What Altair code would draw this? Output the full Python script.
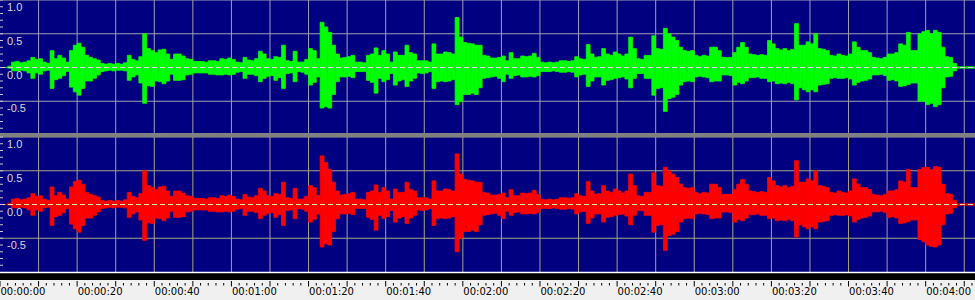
import altair as alt
import pandas as pd

# ---------------- data ----------------
SECONDS = list(range(0, 253))  # 1-second bins

GREEN_UP = [
    0, 0, 0.02, 0.08, 0.09, 0.07, 0.08, 0.10, 0.15, 0.12,
    0.13, 0.08, 0.06, 0.25, 0.13, 0.18, 0.14, 0.08, 0.25, 0.33,
    0.36, 0.30, 0.18, 0.15, 0.13, 0.11, 0.06, 0.05, 0.06, 0.05,
    0.06, 0.05, 0.07, 0.18, 0.12, 0.10, 0.16, 0.50, 0.28, 0.25,
    0.22, 0.26, 0.27, 0.20, 0.12, 0.20, 0.20, 0.17, 0.13, 0.12,
    0.09, 0.09, 0.09, 0.08, 0.10, 0.10, 0.09, 0.13, 0.12, 0.14,
    0.12, 0.08, 0.07, 0.15, 0.11, 0.10, 0.13, 0.24, 0.20, 0.13,
    0.12, 0.16, 0.15, 0.33, 0.10, 0.09, 0.24, 0.08, 0.08, 0.12,
    0.28, 0.25, 0.13, 0.67, 0.60, 0.52, 0.33, 0.20, 0.14, 0.15,
    0.16, 0.18, 0.08, 0.08, 0.07, 0.18, 0.20, 0.29, 0.18, 0.25,
    0.20, 0.08, 0.23, 0.18, 0.18, 0.33, 0.22, 0.20, 0.10, 0.10,
    0.10, 0.08, 0.35, 0.20, 0.20, 0.23, 0.22, 0.20, 0.74, 0.45,
    0.37, 0.36, 0.35, 0.33, 0.33, 0.18, 0.17, 0.14, 0.14, 0.15,
    0.17, 0.10, 0.22, 0.13, 0.13, 0.17, 0.16, 0.17, 0.21, 0.15,
    0.08, 0.07, 0.08, 0.07, 0.08, 0.10, 0.10, 0.09, 0.10, 0.16,
    0.13, 0.12, 0.34, 0.20, 0.15, 0.16, 0.28, 0.20, 0.18, 0.23,
    0.20, 0.17, 0.20, 0.45, 0.28, 0.13, 0.12, 0.18, 0.18, 0.47,
    0.28, 0.27, 0.58, 0.50, 0.45, 0.40, 0.30, 0.25, 0.24, 0.25,
    0.18, 0.16, 0.18, 0.17, 0.30, 0.30, 0.25, 0.15, 0.15, 0.15,
    0.22, 0.30, 0.37, 0.30, 0.20, 0.19, 0.18, 0.19, 0.18, 0.40,
    0.35, 0.28, 0.26, 0.28, 0.25, 0.27, 0.65, 0.33, 0.33, 0.38,
    0.35, 0.50, 0.28, 0.27, 0.25, 0.18, 0.17, 0.20, 0.18, 0.17,
    0.20, 0.38, 0.30, 0.25, 0.25, 0.22, 0.15, 0.14, 0.13, 0.15,
    0.20, 0.20, 0.22, 0.35, 0.33, 0.52, 0.25, 0.25, 0.50, 0.53,
    0.55, 0.50, 0.55, 0.52, 0.30, 0.16, 0.15, 0.06, 0.01, 0.01,
    0.01, 0.01, 0.01,
]
GREEN_DN = [
    0, 0, 0.01, 0.05, 0.05, 0.04, 0.05, 0.08, 0.16, 0.08,
    0.10, 0.05, 0.04, 0.31, 0.18, 0.16, 0.12, 0.06, 0.29, 0.36,
    0.41, 0.31, 0.20, 0.20, 0.16, 0.11, 0.06, 0.05, 0.04, 0.05,
    0.04, 0.04, 0.05, 0.19, 0.14, 0.11, 0.23, 0.53, 0.27, 0.28,
    0.20, 0.21, 0.24, 0.20, 0.10, 0.19, 0.19, 0.18, 0.11, 0.10,
    0.08, 0.08, 0.08, 0.08, 0.10, 0.10, 0.11, 0.11, 0.10, 0.11,
    0.10, 0.07, 0.06, 0.16, 0.10, 0.10, 0.12, 0.21, 0.16, 0.13,
    0.12, 0.19, 0.15, 0.31, 0.09, 0.08, 0.21, 0.06, 0.07, 0.10,
    0.26, 0.22, 0.14, 0.60, 0.58, 0.60, 0.40, 0.21, 0.14, 0.14,
    0.13, 0.15, 0.06, 0.06, 0.06, 0.19, 0.22, 0.38, 0.16, 0.21,
    0.18, 0.09, 0.26, 0.20, 0.18, 0.28, 0.20, 0.16, 0.08, 0.09,
    0.08, 0.06, 0.31, 0.21, 0.20, 0.21, 0.20, 0.18, 0.55, 0.50,
    0.40, 0.40, 0.38, 0.40, 0.30, 0.16, 0.15, 0.14, 0.13, 0.16,
    0.21, 0.10, 0.16, 0.12, 0.11, 0.14, 0.14, 0.13, 0.14, 0.12,
    0.06, 0.06, 0.06, 0.05, 0.06, 0.07, 0.07, 0.06, 0.07, 0.14,
    0.11, 0.10, 0.28, 0.20, 0.14, 0.14, 0.26, 0.19, 0.18, 0.16,
    0.15, 0.14, 0.17, 0.30, 0.16, 0.09, 0.09, 0.16, 0.16, 0.41,
    0.31, 0.30, 0.65, 0.46, 0.44, 0.40, 0.26, 0.21, 0.20, 0.21,
    0.14, 0.13, 0.14, 0.15, 0.21, 0.20, 0.20, 0.11, 0.11, 0.12,
    0.26, 0.22, 0.24, 0.20, 0.15, 0.15, 0.14, 0.16, 0.16, 0.21,
    0.20, 0.24, 0.23, 0.24, 0.22, 0.24, 0.48, 0.30, 0.33, 0.36,
    0.33, 0.36, 0.26, 0.25, 0.24, 0.16, 0.15, 0.16, 0.16, 0.15,
    0.17, 0.26, 0.22, 0.20, 0.19, 0.17, 0.11, 0.11, 0.10, 0.12,
    0.19, 0.18, 0.20, 0.28, 0.27, 0.25, 0.23, 0.23, 0.50, 0.50,
    0.55, 0.53, 0.58, 0.55, 0.30, 0.14, 0.13, 0.05, 0.01, 0.01,
    0.01, 0.01, 0.01,
]
RED_UP = [
    0, 0, 0.02, 0.08, 0.09, 0.07, 0.08, 0.10, 0.16, 0.12,
    0.13, 0.08, 0.06, 0.26, 0.13, 0.18, 0.14, 0.08, 0.26, 0.34,
    0.36, 0.30, 0.18, 0.15, 0.13, 0.11, 0.06, 0.05, 0.06, 0.05,
    0.06, 0.05, 0.07, 0.18, 0.12, 0.10, 0.16, 0.50, 0.28, 0.25,
    0.22, 0.26, 0.27, 0.20, 0.12, 0.20, 0.20, 0.17, 0.13, 0.12,
    0.09, 0.09, 0.09, 0.08, 0.10, 0.10, 0.09, 0.13, 0.12, 0.14,
    0.12, 0.08, 0.07, 0.15, 0.11, 0.10, 0.13, 0.24, 0.20, 0.13,
    0.12, 0.16, 0.15, 0.33, 0.10, 0.09, 0.24, 0.08, 0.08, 0.12,
    0.28, 0.25, 0.13, 0.72, 0.62, 0.52, 0.33, 0.20, 0.14, 0.15,
    0.16, 0.18, 0.08, 0.08, 0.07, 0.18, 0.20, 0.29, 0.18, 0.25,
    0.20, 0.08, 0.23, 0.18, 0.18, 0.33, 0.22, 0.20, 0.10, 0.10,
    0.10, 0.08, 0.35, 0.20, 0.20, 0.23, 0.22, 0.20, 0.75, 0.45,
    0.37, 0.36, 0.35, 0.33, 0.33, 0.18, 0.17, 0.14, 0.14, 0.15,
    0.17, 0.10, 0.22, 0.13, 0.13, 0.17, 0.16, 0.17, 0.21, 0.15,
    0.08, 0.07, 0.08, 0.07, 0.08, 0.10, 0.10, 0.09, 0.10, 0.16,
    0.13, 0.12, 0.34, 0.20, 0.15, 0.16, 0.28, 0.20, 0.18, 0.23,
    0.20, 0.17, 0.20, 0.45, 0.28, 0.13, 0.12, 0.18, 0.18, 0.47,
    0.28, 0.27, 0.55, 0.50, 0.45, 0.40, 0.30, 0.25, 0.24, 0.25,
    0.18, 0.16, 0.18, 0.17, 0.30, 0.30, 0.25, 0.15, 0.15, 0.15,
    0.22, 0.30, 0.37, 0.30, 0.20, 0.19, 0.18, 0.19, 0.18, 0.40,
    0.35, 0.28, 0.26, 0.28, 0.25, 0.27, 0.65, 0.33, 0.33, 0.38,
    0.35, 0.50, 0.28, 0.27, 0.25, 0.18, 0.17, 0.20, 0.18, 0.17,
    0.20, 0.38, 0.30, 0.25, 0.25, 0.22, 0.15, 0.14, 0.13, 0.15,
    0.20, 0.20, 0.22, 0.35, 0.33, 0.52, 0.25, 0.25, 0.52, 0.55,
    0.55, 0.52, 0.56, 0.55, 0.30, 0.16, 0.15, 0.06, 0.01, 0.01,
    0.01, 0.01, 0.01,
]
RED_DN = [
    0, 0, 0.01, 0.05, 0.05, 0.04, 0.05, 0.08, 0.16, 0.08,
    0.10, 0.05, 0.04, 0.31, 0.18, 0.16, 0.12, 0.06, 0.29, 0.36,
    0.41, 0.31, 0.20, 0.20, 0.16, 0.11, 0.06, 0.05, 0.04, 0.05,
    0.04, 0.04, 0.05, 0.19, 0.14, 0.11, 0.23, 0.53, 0.27, 0.28,
    0.20, 0.21, 0.24, 0.20, 0.10, 0.19, 0.19, 0.18, 0.11, 0.10,
    0.08, 0.08, 0.08, 0.08, 0.10, 0.10, 0.11, 0.11, 0.10, 0.11,
    0.10, 0.07, 0.06, 0.16, 0.10, 0.10, 0.12, 0.21, 0.16, 0.13,
    0.12, 0.19, 0.15, 0.31, 0.09, 0.08, 0.21, 0.06, 0.07, 0.10,
    0.26, 0.22, 0.14, 0.63, 0.58, 0.60, 0.40, 0.21, 0.14, 0.14,
    0.13, 0.15, 0.06, 0.06, 0.06, 0.19, 0.22, 0.38, 0.16, 0.21,
    0.18, 0.09, 0.26, 0.20, 0.18, 0.28, 0.20, 0.16, 0.08, 0.09,
    0.08, 0.06, 0.31, 0.21, 0.20, 0.21, 0.20, 0.18, 0.70, 0.50,
    0.40, 0.40, 0.38, 0.40, 0.30, 0.16, 0.15, 0.14, 0.13, 0.16,
    0.21, 0.10, 0.16, 0.12, 0.11, 0.14, 0.14, 0.13, 0.14, 0.12,
    0.06, 0.06, 0.06, 0.05, 0.06, 0.07, 0.07, 0.06, 0.07, 0.14,
    0.11, 0.10, 0.28, 0.20, 0.14, 0.14, 0.26, 0.19, 0.18, 0.16,
    0.15, 0.14, 0.17, 0.30, 0.16, 0.09, 0.09, 0.16, 0.16, 0.41,
    0.31, 0.30, 0.68, 0.46, 0.44, 0.40, 0.26, 0.21, 0.20, 0.21,
    0.14, 0.13, 0.14, 0.15, 0.21, 0.20, 0.20, 0.11, 0.11, 0.12,
    0.26, 0.22, 0.24, 0.20, 0.15, 0.15, 0.14, 0.16, 0.16, 0.21,
    0.20, 0.24, 0.23, 0.24, 0.22, 0.24, 0.48, 0.30, 0.33, 0.36,
    0.33, 0.36, 0.26, 0.25, 0.24, 0.16, 0.15, 0.16, 0.16, 0.15,
    0.17, 0.26, 0.22, 0.20, 0.19, 0.17, 0.11, 0.11, 0.10, 0.12,
    0.19, 0.18, 0.20, 0.28, 0.27, 0.25, 0.23, 0.23, 0.52, 0.55,
    0.60, 0.62, 0.63, 0.60, 0.30, 0.14, 0.13, 0.05, 0.01, 0.01,
    0.01, 0.01, 0.01,
]

GRID_TIMES = list(range(10, 260, 10))
AXIS_TIMES = list(range(0, 260, 10))
MINOR_TICK_TIMES = [t for t in range(2, 254, 2) if t % 10 != 0]
X_LABEL_TIMES = [0, 20, 40, 60, 80, 100, 120, 140, 160, 180, 200, 220, 240]
X_LABELS = ["00:00:00", "00:00:20", "00:00:40", "00:01:00", "00:01:20",
            "00:01:40", "00:02:00", "00:02:20", "00:02:40", "00:03:00",
            "00:03:20", "00:03:40", "00:04:00"]
GRID_LEVELS = [1.0, 0.5, -0.5]
Y_TICK_VALUES = [1.0, 0.9, 0.8, 0.7, 0.6, 0.5, 0.4, 0.3, 0.2, 0.1, 0.0,
                 -0.1, -0.2, -0.3, -0.4, -0.5, -0.6, -0.7, -0.8, -0.9]
Y_LABEL_VALUES = [1.0, 0.5, 0.0, -0.5]
Y_LABELS = ["1.0", "0.5", "0.0", "-0.5"]

# ---------------- layout constants ----------------
W, H = 975, 300
PX_PER_UNIT = 67.5
OFF = 137 / PX_PER_UNIT           # bottom channel shift (panel units)
YMIN = 1.0 - H / PX_PER_UNIT
XMAX = W / 3.857

XS = alt.Scale(domain=[0, XMAX], nice=False, zero=False)
YS = alt.Scale(domain=[YMIN, 1.0], nice=False, zero=False)

NAVY = "#000080"
GRID_COLORS = {"L": "#a0a0b4", "R": "#a4a484"}
ZERO_COLORS = {"L": "#e0d4ea", "R": "#f0e4b0"}
WAVE_COLORS = {"L": "#00ff00", "R": "#ff0000"}
SHIFT = {"L": 0.0, "R": OFF}

# ---------------- tables ----------------
wave = pd.DataFrame(
    [dict(t=s, t2=s + 1, top=GREEN_UP[i], bot=-GREEN_DN[i], ch="L") for i, s in enumerate(SECONDS)]
    + [dict(t=s, t2=s + 1, top=RED_UP[i] - OFF, bot=-RED_DN[i] - OFF, ch="R") for i, s in enumerate(SECONDS)]
)
vgrid = pd.DataFrame([dict(t=t, ya=1.0 - SHIFT[c], yb=-1.0 - SHIFT[c], ch=c)
                      for c in ("L", "R") for t in GRID_TIMES])
hgrid = pd.DataFrame([dict(lvl=v - SHIFT[c], ch=c) for c in ("L", "R") for v in GRID_LEVELS])
zero = pd.DataFrame([dict(z=0.0 - SHIFT[c], ch=c) for c in ("L", "R")])
ytick = pd.DataFrame([dict(v=v - SHIFT[c]) for c in ("L", "R") for v in Y_TICK_VALUES])
ylab = pd.DataFrame([dict(v=v - SHIFT[c], label=Y_LABELS[i])
                     for c in ("L", "R") for i, v in enumerate(Y_LABEL_VALUES)])
xmajor = pd.DataFrame({"t": AXIS_TIMES})
xminor = pd.DataFrame({"t": MINOR_TICK_TIMES})
xlab = pd.DataFrame({"t": X_LABEL_TIMES, "label": X_LABELS})
dummy = pd.DataFrame({"k": [0]})


def cscale(d):
    return alt.Scale(domain=list(d.keys()), range=list(d.values()))


X = lambda f: alt.X(f, scale=XS, axis=None)
Y = lambda f: alt.Y(f, scale=YS, axis=None)

# ---------------- layers ----------------
vgrid_layer = alt.Chart(vgrid).mark_rule(strokeWidth=1).encode(
    x=X("t:Q"), y=Y("ya:Q"), y2="yb:Q",
    color=alt.Color("ch:N", scale=cscale(GRID_COLORS), legend=None),
)
hgrid_layer = alt.Chart(hgrid).mark_rule(strokeWidth=1).encode(
    y=Y("lvl:Q"), x=alt.value(0), x2=alt.value(W),
    color=alt.Color("ch:N", scale=cscale(GRID_COLORS), legend=None),
)
wave_layer = alt.Chart(wave).mark_rect(strokeWidth=0.8).encode(
    x=X("t:Q"), x2="t2:Q", y=Y("top:Q"), y2="bot:Q",
    fill=alt.Fill("ch:N", scale=cscale(WAVE_COLORS), legend=None),
    stroke=alt.Stroke("ch:N", scale=cscale(WAVE_COLORS), legend=None),
)
zero_layer = alt.Chart(zero).mark_rule(strokeWidth=1, strokeDash=[5, 3]).encode(
    y=Y("z:Q"), x=alt.value(0), x2=alt.value(W),
    color=alt.Color("ch:N", scale=cscale(ZERO_COLORS), legend=None),
)
separator = alt.Chart(dummy).mark_rect(color="#808080").encode(
    x=alt.value(0), x2=alt.value(W), y=alt.value(133), y2=alt.value(137))
strip_bg = alt.Chart(dummy).mark_rect(color="#f0f0f0").encode(
    x=alt.value(0), x2=alt.value(W), y=alt.value(272), y2=alt.value(H))
strip_white = alt.Chart(dummy).mark_rect(color="#ffffff").encode(
    x=alt.value(0), x2=alt.value(W), y=alt.value(271.7), y2=alt.value(273.3))
strip_black = alt.Chart(dummy).mark_rect(color="#000000").encode(
    x=alt.value(0), x2=alt.value(W), y=alt.value(273.3), y2=alt.value(280))

ytick_layer = alt.Chart(ytick).mark_rule(color="#c8c8d0", strokeWidth=1).encode(
    y=Y("v:Q"), x=alt.value(0), x2=alt.value(3))
ylab_layer = alt.Chart(ylab).mark_text(
    align="left", baseline="top", dx=0, dy=2, font="Liberation Sans", fontSize=11,
    color="#d8d8d8").encode(
    y=Y("v:Q"), x=alt.value(7), text="label:N")
xmajor_layer = alt.Chart(xmajor).mark_rule(color="#000000", strokeWidth=1).encode(
    x=X("t:Q"), y=alt.value(281), y2=alt.value(286.5))
xminor_layer = alt.Chart(xminor).mark_rule(color="#000000", strokeWidth=1).encode(
    x=X("t:Q"), y=alt.value(283), y2=alt.value(285.5))
xlab_layer = alt.Chart(xlab).mark_text(
    align="left", baseline="top", dx=0.5, font="DejaVu Sans", fontSize=10,
    color="#000000").encode(
    x=X("t:Q"), y=alt.value(287), text="label:N")

chart = alt.layer(
    vgrid_layer, hgrid_layer, wave_layer, zero_layer,
    separator, strip_bg, strip_white, strip_black,
    ytick_layer, ylab_layer, xmajor_layer, xminor_layer, xlab_layer,
).resolve_scale(
    color="independent", fill="independent", stroke="independent",
).properties(
    width=W, height=H,
    autosize=alt.AutoSizeParams(type="none"),
    padding=0,
    background="#f0f0f0",
).configure_view(
    fill=NAVY, stroke=None,
)

chart.save("out.html", embed_options={"renderer": "svg", "actions": False})
